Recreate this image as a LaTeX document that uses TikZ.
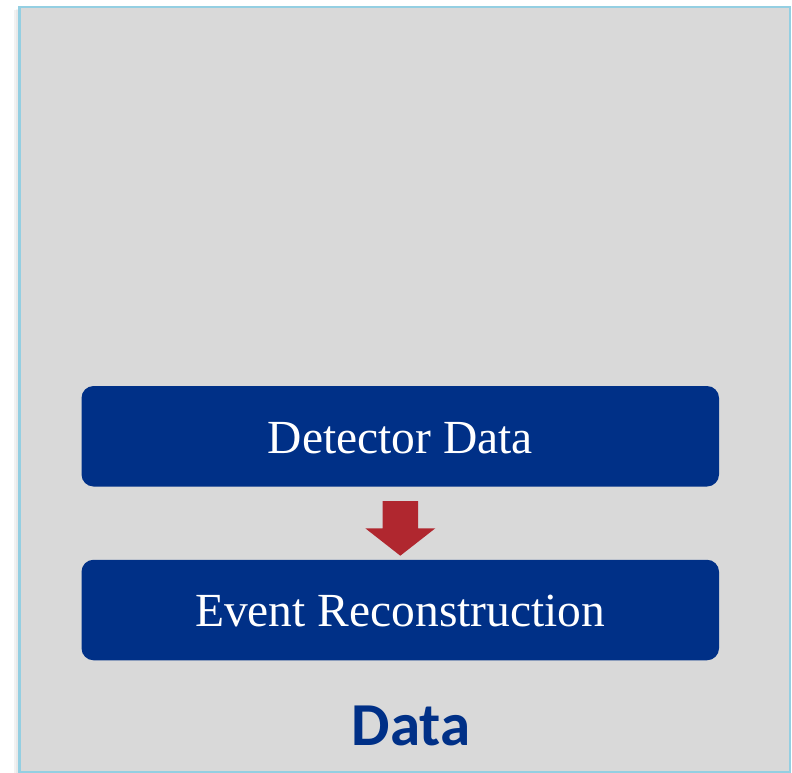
\documentclass[tikz,border=0pt]{standalone}
\usepackage{fontspec}
\setmainfont{Liberation Serif}
\newfontfamily\labelsans{Carlito}
\definecolor{panelgray}{HTML}{D9D9D9}
\definecolor{paneledge}{HTML}{94CFE2}
\definecolor{stepblue}{HTML}{003087}
\definecolor{flowred}{HTML}{B0272F}
\begin{document}
\begin{tikzpicture}[x=1pt,y=-1pt,
  stepbox/.style={draw=none,fill=stepblue,rounded corners=12pt,
    minimum width=637.5pt,minimum height=100.5pt,inner sep=0pt,
    text height=33.5pt,text depth=0pt,
    text=white,font=\fontsize{47.5}{58}\selectfont},
  paneltitle/.style={text=stepblue,inner sep=0pt,
    font=\labelsans\bfseries\fontsize{61}{70}\selectfont}]
  \useasboundingbox (0,0) rectangle (792,773);
  % soft shadow on the left of the panel
  \fill[black,opacity=0.05] (14,10) rectangle (19,773);
  \fill[black,opacity=0.04] (16,9) rectangle (19,773);
  % panel
  \draw[paneledge,line width=2.2pt,fill=panelgray] (19.5,7) rectangle (790,772);
  % processing steps
  \node[stepbox] (detector) at (400.25,436.25) {Detector Data};
  \node[stepbox] (reco) at (400.25,610) {Event Reconstruction};
  % flow arrow between the steps
  \fill[flowred] (382.7,501) -- (418,501) -- (418,528.3) -- (435.3,528.3)
     -- (400.3,555.7) -- (365.3,528.3) -- (382.7,528.3) -- cycle;
  % panel title
  \node[paneltitle,anchor=base] (title) at (411,745) {Data};
\end{tikzpicture}
\end{document}
